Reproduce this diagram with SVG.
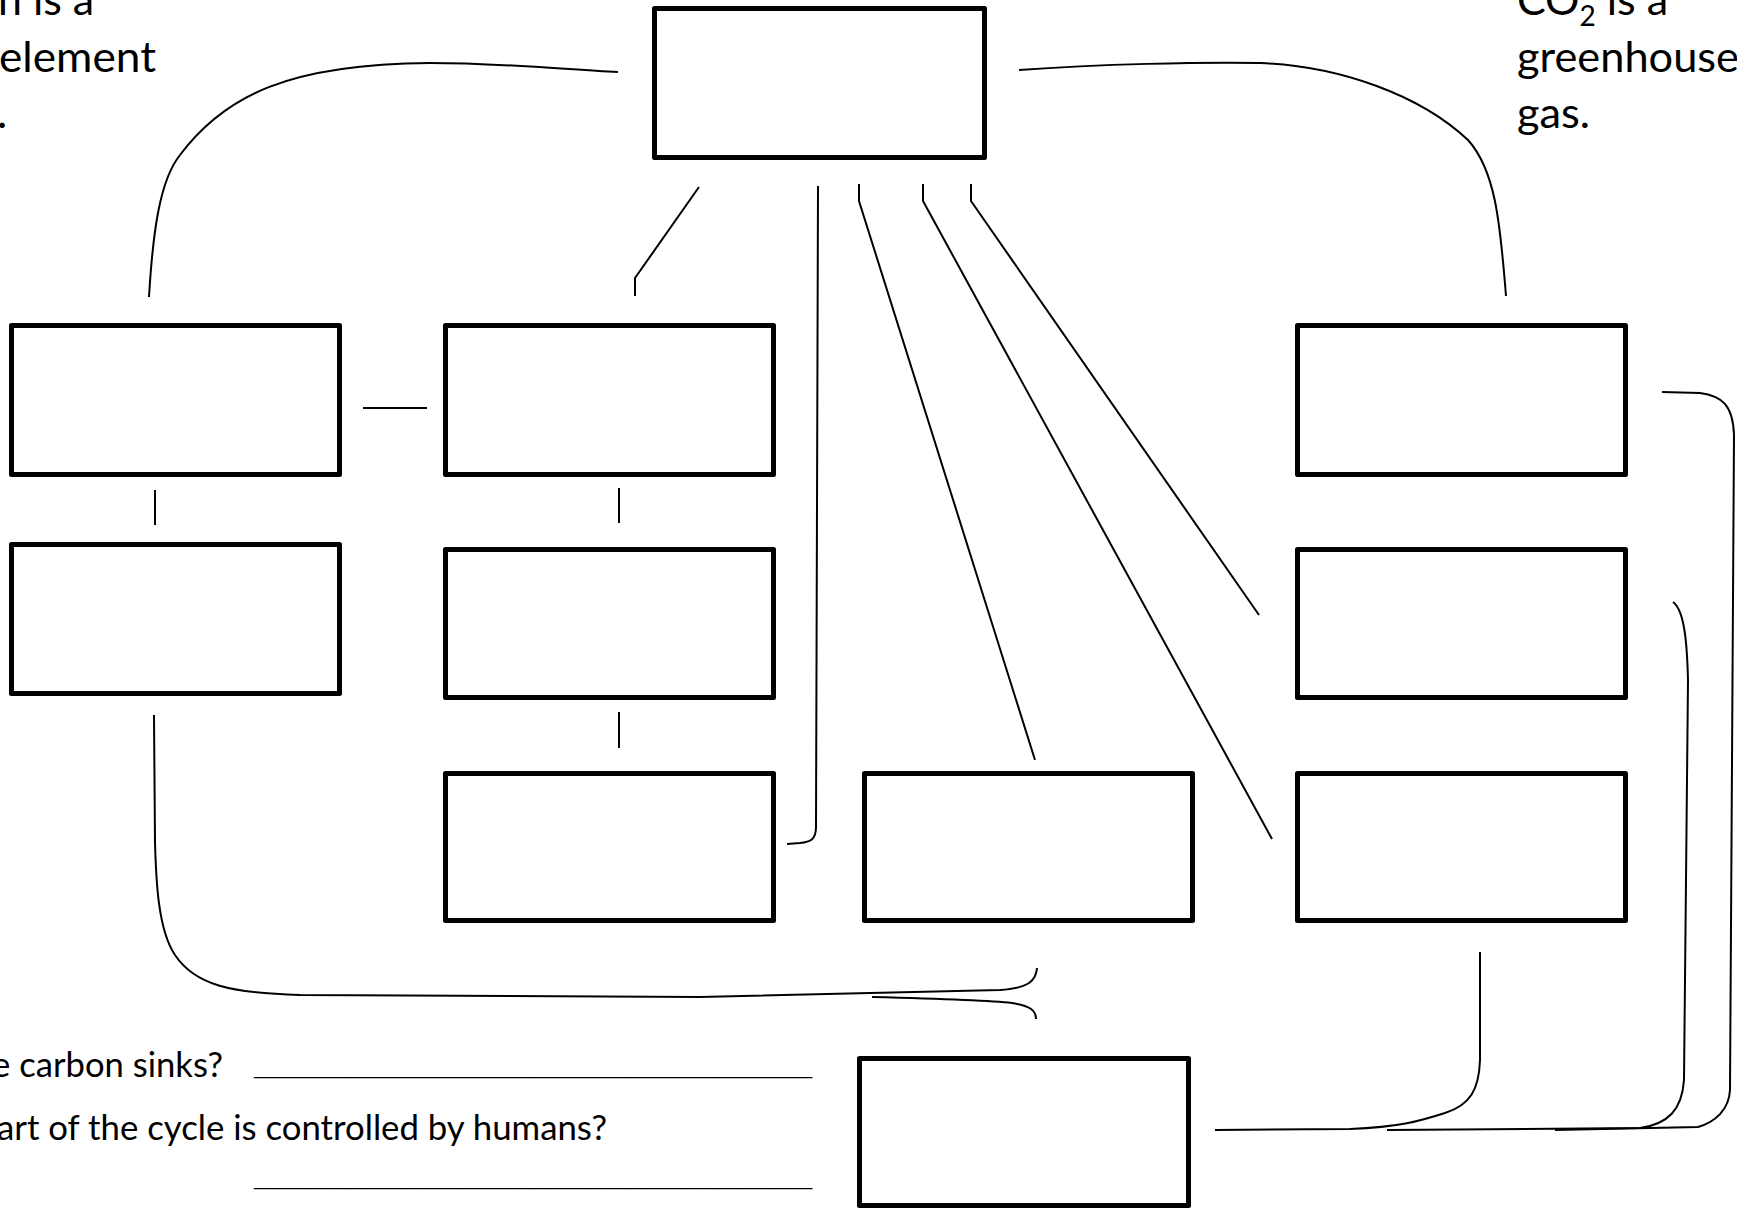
<svg xmlns="http://www.w3.org/2000/svg" width="1737" height="1208" viewBox="0 0 1737 1208">
<style>
.box{fill:#fff;stroke:#000;stroke-width:5;stroke-linejoin:round}
.conn{fill:none;stroke:#000;stroke-width:2;stroke-linecap:butt}
.big{font-family:Lato,"Liberation Sans",sans-serif;font-size:43px;fill:#000}
.q{font-family:Lato,"Liberation Sans",sans-serif;font-size:34px;fill:#000}
.ul{font-family:"Liberation Sans",sans-serif;font-size:34px;font-weight:bold;fill:#000}
</style>
<rect x="0" y="0" width="1737" height="1208" fill="#fff"/>
<g id="notes">
<text class="big" x="-2" y="15" textLength="96" lengthAdjust="spacingAndGlyphs">n is a</text>
<text class="big" x="-1" y="72" textLength="157" lengthAdjust="spacingAndGlyphs">element</text>
<text class="big" x="-3" y="128">.</text>
<text class="big" x="1517" y="15">CO<tspan font-size="28" dy="11">2</tspan><tspan dy="-11"> is a</tspan></text>
<text class="big" x="1517" y="72" textLength="222" lengthAdjust="spacingAndGlyphs">greenhouse</text>
<text class="big" x="1517" y="128" textLength="73" lengthAdjust="spacingAndGlyphs">gas.</text>
<text class="q" x="-8" y="1077" textLength="231" lengthAdjust="spacingAndGlyphs">e carbon sinks?</text>
<text class="ul" x="254" y="1074" textLength="558" lengthAdjust="spacingAndGlyphs">______________________________</text>
<text class="q" x="-3" y="1140" textLength="610" lengthAdjust="spacingAndGlyphs">art of the cycle is controlled by humans?</text>
<text class="ul" x="254" y="1185" textLength="558" lengthAdjust="spacingAndGlyphs">______________________________</text>
</g>
<g id="connectors">
<path class="conn" d="M149,297 C153,230 160,180 180,155 C225,95 290,64 430,63 C500,63 560,69 618,72"/>
<path class="conn" d="M1019,70 C1100,64 1200,62 1260,63 C1340,66 1420,95 1468,140 C1495,170 1500,220 1506,296"/>
<path class="conn" d="M699,187 L635,278 L635,296"/>
<path class="conn" d="M818,186 L816,827 C816,840 810,842 800,843 L787,844"/>
<path class="conn" d="M859,184 L859,201 L1035,760"/>
<path class="conn" d="M923,184 L923,201 L1272,839"/>
<path class="conn" d="M971,184 L971,201 L1259,615"/>
<path class="conn" d="M363,408 L427,408"/>
<path class="conn" d="M155,490 L155,525"/>
<path class="conn" d="M619,488 L619,523"/>
<path class="conn" d="M619,712 L619,748"/>
<path class="conn" d="M154,715 L155,842 C156,880 158,930 175,955 C195,985 230,993 300,995 L700,997 L1000,990 C1030,988 1036,980 1037,968"/>
<path class="conn" d="M872,997 C950,999 995,1001 1012,1003 C1030,1006 1036,1010 1036,1019"/>
<path class="conn" d="M1480,952 L1480,1060 C1479,1090 1470,1105 1445,1113 C1420,1121 1400,1127 1350,1129 L1215,1130"/>
<path class="conn" d="M1673,602 C1684,610 1687,640 1688,680 L1684,1080 C1682,1110 1668,1124 1640,1128 L1387,1130"/>
<path class="conn" d="M1662,392 L1700,393 C1722,396 1733,405 1734,435 L1730,1090 C1729,1110 1715,1122 1698,1127 L1555,1130"/>
</g>
<g id="node-top"><rect class="box" x="654.5" y="8.5" width="330" height="149"/></g>
<g id="node-a1"><rect class="box" x="11.5" y="325.5" width="328" height="149"/></g>
<g id="node-b1"><rect class="box" x="445.5" y="325.5" width="328" height="149"/></g>
<g id="node-r1"><rect class="box" x="1297.5" y="325.5" width="328" height="149"/></g>
<g id="node-a2"><rect class="box" x="11.5" y="544.5" width="328" height="149"/></g>
<g id="node-b2"><rect class="box" x="445.5" y="549.5" width="328" height="148"/></g>
<g id="node-r2"><rect class="box" x="1297.5" y="549.5" width="328" height="148"/></g>
<g id="node-b3"><rect class="box" x="445.5" y="773.5" width="328" height="147"/></g>
<g id="node-c3"><rect class="box" x="864.5" y="773.5" width="328" height="147"/></g>
<g id="node-r3"><rect class="box" x="1297.5" y="773.5" width="328" height="147"/></g>
<g id="node-bottom"><rect class="box" x="859.5" y="1058.5" width="329" height="147"/></g>
</svg>
